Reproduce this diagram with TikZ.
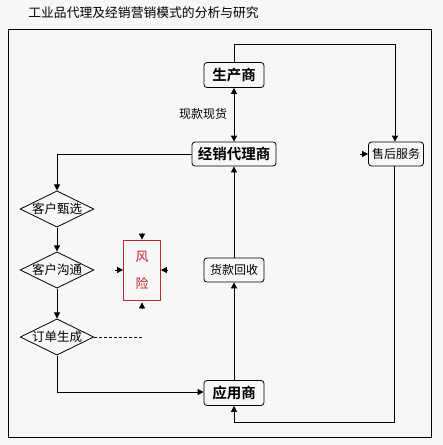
\documentclass[tikz,border=0pt]{standalone}
\usepackage{fontspec}
\newfontfamily\cjk{Noto Sans CJK SC}
\newfontfamily\cjkb{Noto Sans CJK SC Bold}
\usetikzlibrary{shapes.geometric,arrows.meta}
\definecolor{bg}{HTML}{F7F7F7}
\definecolor{riskred}{HTML}{C0262C}
\begin{document}
\begin{tikzpicture}[x=1pt,y=-1pt,
  font=\cjk,
  line width=0.8pt,
  arr/.style={-{Triangle[length=6pt,width=6pt]}},
  darr/.style={{Triangle[length=6pt,width=6pt]}-{Triangle[length=6pt,width=6pt]}},
  mainbox/.style={draw,rounded corners=3pt,inner sep=0pt,font=\cjkb\fontsize{14.5}{16}\selectfont},
  subbox/.style={draw,rounded corners=3pt,inner sep=0pt,font=\cjk\fontsize{12}{13}\selectfont},
  dia/.style={draw,diamond,aspect=2.03,inner sep=0pt,minimum width=73pt,minimum height=36pt,font=\cjk\fontsize{12.5}{14}\selectfont},
  riskbox/.style={draw=riskred,text=riskred,inner sep=0pt,minimum width=37pt,minimum height=60pt,font=\cjk\fontsize{13}{15}\selectfont,align=center}
]
\useasboundingbox (0,0) rectangle (443,445);
\fill[bg] (0,0) rectangle (443,445);
\node[font=\cjk\fontsize{12.8}{14}\selectfont,anchor=west,inner sep=0pt] (title) at (28,13) {工业品代理及经销营销模式的分析与研究};
\draw[line width=1pt] (8,29) rectangle (431,437);

\node[mainbox,minimum width=60pt,minimum height=25pt] (prod) at (234,75) {生产商};
\node[mainbox,minimum width=84pt,minimum height=24pt] (dist) at (234,154) {经销代理商};
\node[subbox,minimum width=55pt,minimum height=24pt] (after) at (396,154) {售后服务};
\node[subbox,minimum width=60pt,minimum height=24pt] (pay) at (234,270) {货款回收};
\node[mainbox,minimum width=60pt,minimum height=25pt] (app) at (234,393) {应用商};

\node[dia] (d1) at (57,209) {客户甄选};
\node[dia] (d2) at (57,270) {客户沟通};
\node[dia] (d3) at (57,337) {订单生成};

\node[riskbox] (risk) at (142,270) {风\\[12pt]险};

\node[font=\cjk\fontsize{12}{13}\selectfont,inner sep=0pt] (cash) at (203,114) {现款现货};

\coordinate (c1) at (234,44);
\coordinate (c2) at (395,44);
\coordinate (c3) at (394,422);
\coordinate (c4) at (234,422);
\coordinate (c5) at (57,154);
\coordinate (c6) at (57,392);
\coordinate (dashend) at (142,337);

\draw[darr] (prod.south) -- (dist.north);
\draw[arr] (prod.north) -- (c1) -- (c2) -- (c2 |- after.north);
\draw (after.south -| c3) -- (c3) -- (c4);
\draw[arr] (c4) -- (app.south);
\draw[arr] (app.north) -- (pay.south);
\draw[arr] (pay.north) -- (dist.south);
\draw[arr] (dist.west) -- (c5) -- (d1.north);
\draw[arr] (d1.south) -- (d2.north);
\draw[arr] (d2.south) -- (d3.north);
\draw[arr] (d3.south) -- (c6) -- (app.west |- c6);
\draw[dashed,dash pattern=on 3pt off 2pt,line width=0.6pt] (d3.east) -- (dashend);
\draw[arr] ([xshift=-8pt]after.west) -- (after.west);

\draw[arr] ([yshift=7pt]risk.north) -- (risk.north);
\draw[arr] ([yshift=-8pt]risk.south) -- ([yshift=-2pt]risk.south);
\draw[arr] ([xshift=-8pt]risk.west) -- (risk.west);
\draw[arr] ([xshift=7pt]risk.east) -- (risk.east);
\end{tikzpicture}
\end{document}
